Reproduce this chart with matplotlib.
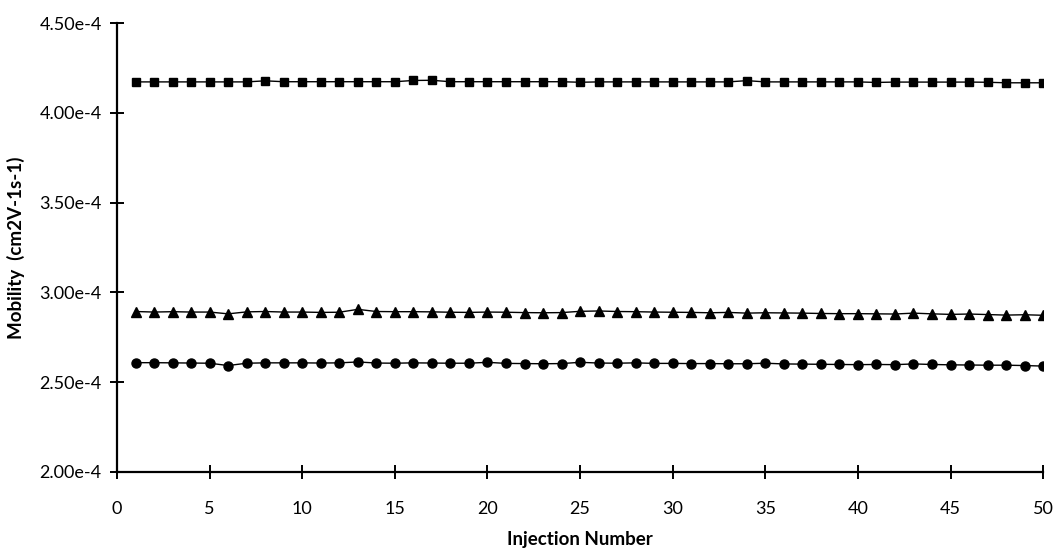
import matplotlib
matplotlib.use("Agg")
import matplotlib.pyplot as plt
import numpy as np

# mobility per injection, in units of 1e-4 cm2 V-1 s-1
injection = np.arange(1, 51)

squares = [
    4.172, 4.172, 4.172, 4.172, 4.172, 4.172, 4.172, 4.178, 4.173, 4.173,
    4.173, 4.173, 4.173, 4.173, 4.173, 4.180, 4.181, 4.173, 4.173, 4.173,
    4.173, 4.173, 4.173, 4.173, 4.170, 4.172, 4.172, 4.172, 4.172, 4.172,
    4.172, 4.172, 4.172, 4.179, 4.172, 4.172, 4.172, 4.172, 4.172, 4.172,
    4.169, 4.171, 4.171, 4.171, 4.171, 4.171, 4.170, 4.167, 4.167, 4.167,
]

triangles = [
    2.893, 2.890, 2.892, 2.890, 2.890, 2.880, 2.891, 2.893, 2.890, 2.890,
    2.888, 2.889, 2.905, 2.893, 2.892, 2.892, 2.891, 2.889, 2.888, 2.890,
    2.889, 2.887, 2.886, 2.887, 2.894, 2.896, 2.893, 2.892, 2.890, 2.889,
    2.888, 2.886, 2.888, 2.884, 2.886, 2.885, 2.884, 2.882, 2.881, 2.881,
    2.880, 2.879, 2.884, 2.880, 2.877, 2.879, 2.876, 2.873, 2.875, 2.872,
]

circles = [
    2.608, 2.608, 2.607, 2.606, 2.605, 2.592, 2.605, 2.607, 2.607, 2.607,
    2.606, 2.607, 2.612, 2.606, 2.605, 2.607, 2.606, 2.605, 2.605, 2.610,
    2.604, 2.603, 2.602, 2.603, 2.610, 2.606, 2.605, 2.607, 2.604, 2.604,
    2.603, 2.603, 2.602, 2.602, 2.605, 2.601, 2.600, 2.599, 2.598, 2.597,
    2.598, 2.597, 2.601, 2.598, 2.596, 2.595, 2.594, 2.594, 2.592, 2.589,
]

y_ticks = [2.0, 2.5, 3.0, 3.5, 4.0, 4.5]
y_tick_labels = ["2.00e-4", "2.50e-4", "3.00e-4", "3.50e-4", "4.00e-4", "4.50e-4"]
x_ticks = [0, 5, 10, 15, 20, 25, 30, 35, 40, 45, 50]

plt.rcParams["font.family"] = ["Lato", "DejaVu Sans"]

fig = plt.figure(figsize=(10.59, 5.48), dpi=100)
ax = fig.add_axes([0.1105, 0.139, 0.8745, 0.819])

scale = 1e-4
for vals, marker, ms in [(squares, "s", 6.0), (triangles, "^", 6.5), (circles, "o", 6.5)]:
    ax.plot(injection, np.array(vals) * scale, color="black", linewidth=1.0,
            marker=marker, markersize=ms, markerfacecolor="black",
            markeredgecolor="black")

ax.set_xlim(0, 50)
ax.set_ylim(2.0e-4, 4.5e-4)
ax.set_xticks(x_ticks)
ax.set_xticklabels([str(t) for t in x_ticks])
ax.set_yticks([v * scale for v in y_ticks])
ax.set_yticklabels(y_tick_labels)

for side in ("top", "right"):
    ax.spines[side].set_visible(False)
for side in ("left", "bottom"):
    ax.spines[side].set_linewidth(1.6)
    ax.spines[side].set_clip_on(False)

ax.tick_params(direction="inout", length=10, width=1.4, labelsize=13, pad=6)
ax.tick_params(axis="x", pad=16)

ax.set_xlabel("Injection Number", fontsize=13.5, fontweight="bold", labelpad=10)
ax.set_ylabel("Mobility  (cm2V-1s-1)", fontsize=13.5, fontweight="bold", labelpad=10)

fig.savefig("out.png", dpi=100)
plt.close(fig)
